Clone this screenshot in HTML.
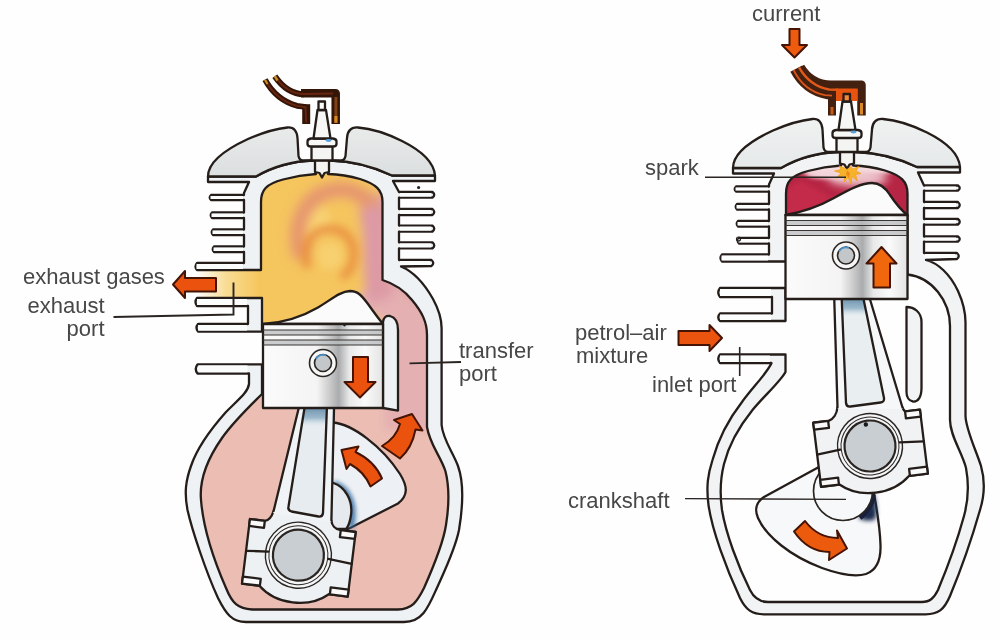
<!DOCTYPE html>
<html><head><meta charset="utf-8">
<style>
html,body{margin:0;padding:0;background:#fefefe;}
body{width:1000px;height:641px;overflow:hidden;font-family:"Liberation Sans",sans-serif;}
svg{display:block;filter:blur(0.55px)}
text{font-family:"Liberation Sans",sans-serif;font-size:22px;fill:#474747;}
.o{stroke:#241d1a;stroke-width:2.3;stroke-linejoin:round;stroke-linecap:round;}
.w{fill:#eef2f5;}
.w2{fill:#f1f3f5;}
.f{fill:none;}
</style></head><body>
<svg width="1000" height="641" viewBox="0 0 1000 641">
<defs>
<filter id="b2" filterUnits="userSpaceOnUse" x="0" y="0" width="1000" height="641"><feGaussianBlur stdDeviation="2"/></filter>
<filter id="b4" filterUnits="userSpaceOnUse" x="0" y="0" width="1000" height="641"><feGaussianBlur stdDeviation="4"/></filter>
<filter id="b5" filterUnits="userSpaceOnUse" x="0" y="0" width="1000" height="641"><feGaussianBlur stdDeviation="5.5"/></filter>
<filter id="b7" filterUnits="userSpaceOnUse" x="0" y="0" width="1000" height="641"><feGaussianBlur stdDeviation="7"/></filter>
<linearGradient id="dome" x1="0" y1="0" x2="0" y2="1"><stop offset="0" stop-color="#e9ebeb"/><stop offset="1" stop-color="#dcdfdf"/></linearGradient>
<linearGradient id="pist" x1="0" y1="0" x2="1" y2="0">
<stop offset="0" stop-color="#fbfbfb"/><stop offset="0.45" stop-color="#f4f4f4"/><stop offset="0.56" stop-color="#c9c9c9"/><stop offset="0.63" stop-color="#a9abad"/><stop offset="0.72" stop-color="#e9e9e9"/><stop offset="0.85" stop-color="#fafafa"/><stop offset="1" stop-color="#e3e3e3"/></linearGradient>
<linearGradient id="exh" x1="0" y1="0" x2="1" y2="0"><stop offset="0" stop-color="#fefefe"/><stop offset="0.45" stop-color="#f9dd96"/><stop offset="1" stop-color="#f5c458"/></linearGradient>
<linearGradient id="shadeL" gradientUnits="userSpaceOnUse" x1="0" y1="408" x2="0" y2="426"><stop offset="0" stop-color="#6f93ad"/><stop offset="0.55" stop-color="#8fb0c6" stop-opacity="0.85"/><stop offset="1" stop-color="#cfdde6" stop-opacity="0"/></linearGradient>
<linearGradient id="shadeR" gradientUnits="userSpaceOnUse" x1="0" y1="299" x2="0" y2="316"><stop offset="0" stop-color="#6f93ad"/><stop offset="0.55" stop-color="#8fb0c6" stop-opacity="0.85"/><stop offset="1" stop-color="#cfdde6" stop-opacity="0"/></linearGradient>
<clipPath id="lcham"><path d="M261,332 L261,200 C261,188 268,182 285,178 C298,175 310,174 322,174 C336,174 348,175 360,179 C376,184 382.5,190 382.5,202 L382.5,280 C392,283 404,290 412,300 C422,312 427,322 427,335 L427,427 C430,445 440,455 445.4,471 C449,485 450,500 446,525 C443,545 432,570 424,588 C417,602 412,609 398,609.5 L252,609.5 C238,609 232,603 226,588 C212,556 203,525 201,500 C199,478 208,458 222,438 C234,421 250,406 262,394 L262,332 Z M266,270 L266,298 L196,298 L196,270 Z"/></clipPath>
</defs>
<rect width="1000" height="641" fill="#fefefe"/>

<!-- ================= LEFT ENGINE ================= -->
<g id="left">
<!-- gas fills -->
<g clip-path="url(#lcham)">
<rect x="195" y="165" width="260" height="460" fill="#ebbdb3"/>
<rect x="255" y="165" width="140" height="175" fill="#f5c55e"/>
<ellipse cx="316" cy="222" rx="14" ry="18" fill="#f8d272" filter="url(#b4)"/>
<ellipse cx="330" cy="256" rx="13" ry="14" fill="#f8d070" filter="url(#b4)"/>
<path d="M358,200 C392,205 384,260 388,300 L445,335 L445,180 Z" fill="#de9ea8" filter="url(#b7)"/>
<path d="M352,300 C368,290 376,280 396,284 L445,330 L445,430 L384,430 L384,322 Z" fill="#e5b0b1" filter="url(#b4)"/>
<path d="M301,258 C291,222 306,195 334,190 C356,187 372,199 378,222" fill="none" stroke="#e69570" stroke-width="15" filter="url(#b5)"/>
<path d="M372,206 C380,240 372,272 382,300" fill="none" stroke="#dd9aa6" stroke-width="26" filter="url(#b5)"/>
<path d="M308,268 C299,246 312,230 329,229 C347,228 357,244 353,262 C351,271 346,275 341,277" fill="none" stroke="#e98f40" stroke-width="8" filter="url(#b4)"/>
<rect x="196" y="270" width="66" height="28" fill="url(#exh)"/>
</g>

<!-- walls: head + upper-left -->
<path class="o w" d="M313.5,160.5 C296,161 274,166 256,176.5 L208,176.5 L208,182 L249,182 L244,193 L244,195 L211,195 Q208.5,197.5 211,200 L244,200 L244,212.5 L212,212.5 Q209.5,215.2 212,218 L244,218 L244,229.5 L213,229.5 Q210.5,232.2 213,235 L244,235 L244,246.5 L214,246.5 Q211.5,249.2 214,252 L244,252 L244,263 L197,263 Q194,266.5 197,270 L261,270 L261,202 C261,190 266,184 283,179.5 C296,176 308,174.5 316,174 L316,160.5 Z"/>
<!-- walls: upper-right + casing + bottom + left + fin8 -->
<path class="o w" d="M330.5,160.5 C350,161 372,166 392,175.5 L435,175.5 L435,181 L393,181 L399,192 L432.5,192 Q436,194.8 432.5,197.6 L399,197.6 L399,209 L432.5,209 Q436,212 432.5,215 L399,215 L399,225.6 L432.5,225.6 Q436,228.6 432.5,231.6 L399,231.6 L399,242.4 L432.5,242.4 Q436,245.4 432.5,248.4 L399,248.4 L399,260 L431.5,260 Q435,263 431.5,266 L401,266.5 C412,271 424,283 433,299 C439,310 441.6,318 441.6,328 L441.6,425 C443,440 453,452 458,466 C463,480 464,500 459,530 C455,550 444,572 436,590 C428,608 422,622 404,622 L246,622 C232,622 226,614 218,598 C206,572 192,530 187.5,510 C184,492 186,480 191,466 C197,448 210,430 226,412 C240,398 248,392 249,384 L249,373.5 L197.5,373.5 Q194,369 197.5,364.4 L262,364.4 L262,394 C250,406 234,421 222,438 C208,458 199,478 201,500 C203,525 212,556 226,588 C232,603 238,609 252,609.5 L398,609.5 C412,609 417,602 424,588 C432,570 443,545 446,525 C450,500 449,485 445.4,471 C440,455 430,445 427,427 L427,335 C427,322 422,312 412,300 C404,290 392,283 382.5,280 L382.5,202 C382.5,190 376,184 360,179 C348,175.5 338,174.3 328,174 L328,160.5 Z"/>
<!-- exhaust lower C fins -->
<path class="o w" d="M197,298 L262,298 L262,331.6 L198,331.6 Q195,327.8 198,324 L248,324 L248,306 L197,306 Q194,302 197,298 Z"/>
<!-- transfer divider -->
<path class="o w" d="M383,408 L383,322 Q384,315 390,316 Q398,318 398,330 L398,410.6 Z"/>
<g fill="#fbfcfc">
<rect x="210.5" y="196" width="32.5" height="3"/><rect x="211.5" y="213.5" width="31.5" height="3.5"/><rect x="212.5" y="230.5" width="30.5" height="3.5"/><rect x="213.5" y="247.5" width="29.5" height="3.5"/><rect x="196.5" y="264" width="46.5" height="5"/>
<rect x="400" y="193" width="31" height="3.6"/><rect x="400" y="210" width="31" height="4"/><rect x="400" y="226.6" width="31" height="4"/><rect x="400" y="243.4" width="31" height="4"/><rect x="400" y="261" width="30" height="4"/>
<rect x="197" y="299" width="50" height="6"/><rect x="198" y="325" width="49" height="5.6"/><rect x="198.5" y="365.4" width="49" height="7"/>
</g>
<!-- domes -->
<path class="o" fill="url(#dome)" d="M208,176.5 C208,163 222,151 248,139 C264,132 278,128.5 287.5,127.5 C294,127 297,131 297.5,138 L298.5,156 Q299.5,160.5 303,160.5 L313.5,160.5 C296,161 274,166 256,176.5 Z"/>
<path class="o" fill="url(#dome)" d="M435,175.5 C434,163 424,152 402,141 C386,133 370,128.5 358,127.5 C351,127 347.5,131 347,138 L345.5,156 Q344.5,160.5 341,160.5 L330.5,160.5 C350,161 372,166 392,175.5 Z"/>
<circle cx="418.6" cy="187.5" r="1.6" fill="#222"/>
<!-- spark plug -->
<g id="plugL">
<path class="o" fill="#f4f4f2" d="M315,160 L315,172 L319.5,173 L322,177.5 L324.5,173 L329,172 L329,160 Z"/>
<path class="o" fill="#f4f4f2" d="M311.5,146 L332.5,146 L332.5,160.5 L311.5,160.5 Z"/>
<path class="o" fill="#f7f7f5" d="M307.5,141.5 Q307.5,139 311,138.5 L333,138.5 Q336.5,139 336.5,141.5 L336.5,144 Q336.5,146.5 333,146.5 L311,146.5 Q307.5,146.5 307.5,144 Z"/>
<path class="o" fill="#f7f7f5" d="M317.5,110 L326,110 L330.5,138.5 L313.5,138.5 Z"/>
<path class="o" fill="#fbfbf8" d="M318.5,101.5 L325,101.5 L325,110 L318.5,110 Z"/>
<ellipse cx="328.5" cy="140.5" rx="3" ry="1.4" fill="#5aa0d8"/>
</g>
<!-- wire left -->
<g fill="none" stroke-linecap="butt" stroke-linejoin="round">
<path d="M265,79.7 C272,92.5 283,102 297,105.8 L306,107" stroke="#341608" stroke-width="5.8"/>
<path d="M306.2,104.2 L306.2,124" stroke="#341608" stroke-width="8"/>
<path d="M274.8,76.2 C283,88 292,94 304,94.2" stroke="#341608" stroke-width="6"/>
<path d="M301,93.2 L335.7,93.2 L335.7,124" stroke="#341608" stroke-width="8.5"/>
<path d="M265,79.7 C272,92.5 283,102 297,105.8 L305.5,107.2 L306.2,122.5" stroke="#6b2410" stroke-width="1.8"/>
<path d="M274.8,76.2 C283,88 292,94 304,94 L333,93.6" stroke="#6b2410" stroke-width="2"/>
<path d="M335.9,97 L335.9,122.8" stroke="#7e4414" stroke-width="3"/>
<path d="M335.9,116 L335.9,122.8" stroke="#d8861e" stroke-width="3.2"/>
<path d="M265,79.7 L267.5,84" stroke="#c8901e" stroke-width="2.2"/>
<path d="M274.8,76.2 L277.5,80.5" stroke="#c8901e" stroke-width="2.4"/>
</g>
<!-- crank web -->
<path class="o" fill="#edf1f5" d="M333,422.5 C352,424 382,446 400,474 C408,487 408,496 398,503.5 L348,529 L330,529 Z"/>
<path d="M333.5,484 C347,488 356,503 350.5,527.5" fill="none" stroke="#3b6fa3" stroke-width="7" filter="url(#b2)" opacity="0.9"/>
<path class="o" fill="#e6eaee" d="M333.5,483 C345,487 353,500 351,515 C350,522 348,527 346,529 L330,529 L330,483 Z"/>
<!-- big end + conrod -->
<g transform="translate(298.4,555.2) rotate(7)">
<path fill="#eef1f3" d="M-52.5,-30 L-37.5,-30 C-33,-31 -31,-36 -30,-40.8 L28.5,-38.4 C29.5,-34 33,-30 39,-30 L54,-30 L54,35 L35,35 C25,44 12,47.5 0,47.5 C-12,47.5 -25,44 -35,35 L-52.5,35 Z"/>
<path class="o f" d="M-30,-40.8 C-31,-36 -33,-31 -37.5,-30 L-52.5,-30 L-52.5,35 L-35,35 C-25,44 -12,47.5 0,47.5 C12,47.5 25,44 35,35 L54,35 L54,-30 L39,-30 C33,-30 29.5,-34 28.5,-38.4"/>
</g>
<path fill="#f1f4f6" d="M298.5,409 L334,409 L331.4,522 L273,513 Z"/>
<path class="o f" d="M298.5,409 L273.6,511 M334,409 L331.4,520.6"/>
<path fill="#e6ecf0" d="M305,405 L327,405 L323,513 Q322.5,517 318.5,516.5 L291.5,511.5 Q287.5,510.5 288.5,506.5 Z"/><path fill="url(#shadeL)" d="M305,405 L327,405 L326.2,427 L301.7,427 Z"/><path class="o f" d="M305,405 L288.5,506.5 Q287.5,510.5 291.5,511.5 L318.5,516.5 Q322.5,517 323,513 L327,405"/>
<g transform="translate(298.4,555.2) rotate(7)">
<circle r="33" cx="0" cy="0" fill="#f3f5f6" stroke="#2b2522" stroke-width="1.4"/>
<circle r="29.5" cx="0" cy="0" fill="none" stroke="#2b2522" stroke-width="1"/>
<circle r="25.5" cx="0" cy="0" fill="#c9ced3" stroke="#2b2522" stroke-width="2.2"/>
<path d="M-52.5,2 L-30,0 M30,0 L54,2" class="o f" />
<path class="o" fill="#fafafa" d="M-52.5,-30 h15 v7 h-15 Z M39,-30 h15 v7 h-15 Z M-52.5,28 h18 v7 h-18 Z M36,28 h18 v7 h-18 Z" stroke-width="1.3"/>
</g>
<!-- piston -->
<path class="o" fill="#fbfbfb" d="M263,324 C280,323 300,318 318,307.5 C332,299 340,291.5 350,291 C358,291 362,296 368,304 C373,311 378,318 383,324 Z"/>
<rect x="263" y="324" width="120" height="84" fill="url(#pist)"/>
<rect x="263" y="330" width="120" height="5" fill="#b9bcbe" opacity="0.75"/>
<rect x="263" y="340" width="120" height="5" fill="#b9bcbe" opacity="0.75"/>
<path class="o f" d="M263,324 L383,324 L383,408 L263,408 Z" />
<path d="M263,330 H383 M263,335 H383 M263,340 H383 M263,345 H383" stroke="#3a3634" stroke-width="1.1" fill="none"/>
<circle cx="323" cy="363" r="13.5" fill="#f6f6f6" stroke="#2b2522" stroke-width="1.6"/>
<circle cx="323" cy="363" r="8.5" fill="#c4c7ca" stroke="#2b2522" stroke-width="1.6"/>
<path d="M316,359 A8,8 0 0 1 326,355.5" stroke="#4a94d0" stroke-width="1.6" fill="none"/>
<circle cx="344.5" cy="325" r="1.4" fill="#222"/>
<!-- arrows -->
<g stroke="#451404" stroke-width="2" stroke-linejoin="round" fill="#ea520e">
<path d="M353,357 L368,357 L368,382 L375.5,382 L360,397.5 L344.5,382 L353,382 Z"/>
<path d="M382,446 Q396,438 400,424 L394,420 L412,414 L422.5,430.5 L415.5,429.5 Q412,448 400,458.5 Z"/>
<path d="M341.5,450 L358.5,446.5 L355.5,452 Q374.5,461 382,478.5 L370.5,486.5 Q364.5,472 350,464 L346.5,469 Z"/>
<path d="M173,284.5 L185,271 L185,278 L216,278 L216,291.5 L185,291.5 L185,298 Z"/>
</g>
<!-- leaders + labels -->
<path d="M233.5,282.5 L233.5,314.5 L113.5,317" class="f" stroke="#2b2522" stroke-width="1.9"/>
<path d="M409.5,363.3 L461,362" class="f" stroke="#2b2522" stroke-width="1.8"/>
<text x="23" y="283.5">exhaust gases</text>
<text x="104.5" y="312.5" text-anchor="end">exhaust</text>
<text x="104.5" y="336" text-anchor="end">port</text>
<text x="459" y="357.5">transfer</text>
<text x="459" y="381">port</text>
</g>

<!-- ================= RIGHT ENGINE ================= -->
<g id="right">
<defs>
<clipPath id="rcham"><path d="M786,216 L786,193.5 C786,181.5 791,175.5 808,171 C821,167.5 833,166 841,165.5 L853,165.5 C863,165.8 873,167 885,170.5 C901,175.5 907.5,181.5 907.5,193.5 L907.5,216 Z"/></clipPath>
<linearGradient id="dome2" x1="0" y1="0" x2="0" y2="1"><stop offset="0" stop-color="#f0f2f2"/><stop offset="1" stop-color="#e6e9e9"/></linearGradient>
<linearGradient id="maroon" x1="0" y1="0" x2="0" y2="1"><stop offset="0" stop-color="#d9a0a8"/><stop offset="0.18" stop-color="#b83a55"/><stop offset="0.6" stop-color="#a8213f"/><stop offset="1" stop-color="#b02a48"/></linearGradient>
</defs>
<!-- compressed gas -->
<g clip-path="url(#rcham)">
<rect x="780" y="160" width="135" height="60" fill="#b62544"/>
<path d="M786,216 C800,212 818,207 834,199 L800,180 L786,190 Z" fill="#c42a48" filter="url(#b2)"/>
<ellipse cx="846" cy="169" rx="50" ry="7.5" fill="#f6e4e6" filter="url(#b2)"/>
<ellipse cx="858" cy="178" rx="30" ry="8" fill="#efc8cf" filter="url(#b4)"/>
<ellipse cx="830" cy="174" rx="24" ry="5" fill="#f3d6da" filter="url(#b2)"/>
</g>
<!-- head + upper-left wall -->
<path class="o w2" transform="translate(525,-8.5)" d="M313.5,160.5 C296,161 274,166 256,176.5 L208,176.5 L208,182 L249,182 L244,193 L244,195 L211,195 Q208.5,197.5 211,200 L244,200 L244,212.5 L212,212.5 Q209.5,215.2 212,218 L244,218 L244,229.5 L213,229.5 Q210.5,232.2 213,235 L244,235 L244,246.5 L214,246.5 Q211.5,249.2 214,252 L244,252 L244,263 L197,263 Q194,266.5 197,270 L261,270 L261,202 C261,190 266,184 283,179.5 C296,176 308,174.5 316,174 L316,160.5 Z"/>
<!-- upper-right wall + casing -->
<path class="o w2" d="M855.5,152 C875,152.5 897,157.5 917,167 L960,167 L960,172.5 L918,172.5 L924,185.5 L958,185.5 Q961.5,188 958,190.6 L924,190.6 L924,202 L958,202 Q961.5,205 958,208 L924,208 L924,219 L958,219 Q961.5,221.8 958,224.5 L924,224.5 L924,236.5 L958,236.5 Q961.5,239 958,241.6 L924,241.6 L924,253 L957,253 Q960.5,256 957,259 L926,260 C938,263 950,274 958,291 C963,302 965.5,312 965.5,322.5 L965.5,416 C966,430 976,450 981,466 C985,480 985,494 980,510 C972,538 960,572 950,596 C944,610 938,614.3 925.6,614.3 L764,614.3 C752,614.3 746,610 740,598 C726,568 712,530 708.5,505 C706,486 708,474 712.5,460 C718,440 728,420 742,402 C752,388 768,372 771.5,363 L720,363 Q716.5,358.7 720,354.5 L785.5,354.5 L785.5,372 C780,382 764,396 752.5,410 C738,428 728,448 724,464 C720,480 720,496 722,510 C726,534 738,566 750,590 C754,598 760,602 768,602 L921.8,602 C930,602 934,598 938,590 C948,566 958,538 964,516 C969,498 969,484 966,468 C962,452 950,436 950,420 L950,326 C950,314 946,302 938,292 C930,282 920,276 907.5,274.5 L907.5,193.5 C907.5,181.5 901,175.5 885,170.5 C873,167 863,165.8 853,165.5 L853,152 Z"/>
<!-- exhaust C fins -->
<path class="o w2" d="M720,288 L785.5,288 L785.5,321 L720,321 Q716.5,317.3 720,313.5 L772,313.5 L772,297 L720,297 Q716.5,292.5 720,288 Z"/>
<!-- slot -->
<path class="o w2" d="M906.5,307 C914,307 921.5,312 921.5,322 L921.5,388 C921.5,397 918,402 913,401.5 C909,401 906.5,397 906.5,392 Z"/>
<g fill="#fcfdfd">
<rect x="735.5" y="187.5" width="32.5" height="3"/><rect x="736.5" y="205" width="31.5" height="3.5"/><rect x="737.5" y="222" width="30.5" height="3.5"/><rect x="738.5" y="239" width="29.5" height="3.5"/><rect x="721.5" y="255.5" width="46.5" height="5"/>
<rect x="925" y="186.5" width="31" height="3.1"/><rect x="925" y="203" width="31" height="4"/><rect x="925" y="220" width="31" height="3.5"/><rect x="925" y="237.5" width="31" height="3.1"/><rect x="925" y="254" width="30" height="4"/>
<rect x="720" y="289" width="51" height="7"/><rect x="720" y="314.5" width="51" height="5.5"/><rect x="720" y="355.5" width="50" height="6.5"/>
</g>
<!-- domes -->
<g transform="translate(525,-8.5)">
<path class="o" fill="url(#dome2)" d="M208,176.5 C208,163 222,151 248,139 C264,132 278,128.5 287.5,127.5 C294,127 297,131 297.5,138 L298.5,156 Q299.5,160.5 303,160.5 L313.5,160.5 C296,161 274,166 256,176.5 Z"/>
<path class="o" fill="url(#dome2)" d="M435,175.5 C434,163 424,152 402,141 C386,133 370,128.5 358,127.5 C351,127 347.5,131 347,138 L345.5,156 Q344.5,160.5 341,160.5 L330.5,160.5 C350,161 372,166 392,175.5 Z"/>
</g>
<circle cx="738.5" cy="239" r="2" fill="none" stroke="#222" stroke-width="1.2"/>
<!-- wire right -->
<g fill="none" stroke-linecap="butt" stroke-linejoin="miter">
<path d="M832,96 L832,115.5" stroke="#43200f" stroke-width="8"/>
<path d="M796.3,68.7 C803,81.5 813,90 828,92.5 L836,92.5" stroke="#43200f" stroke-width="13.5"/>
<path d="M800.5,67 C808,79.5 818,84.7 831,84.7 L861.5,84.7 L861.5,115.5" stroke="#43200f" stroke-width="8.5" stroke-linejoin="round"/>
<path d="M793.6,70 C800,83 810.5,92.2 825,95.2 L832,95.6" stroke="#d9541a" stroke-width="1.8"/>
<path d="M799,67.4 C806,79.5 815.5,87.2 829,89.5 L838,89.8" stroke="#e2591a" stroke-width="2.4"/>
<path d="M836,88.5 L857.5,88.5 L857.5,101 L836,101 Z" fill="#e8540f" stroke="none"/>
<path d="M861.5,103 L861.5,114.5" stroke="#d88a28" stroke-width="3"/>
<path d="M832,107 L832,114.5" stroke="#c65a18" stroke-width="3"/>
</g>
<!-- plug -->
<g transform="translate(525,-8.5)">
<path class="o" fill="#f4f4f2" d="M315,160 L315,172 L319.5,173 L322,177.5 L324.5,173 L329,172 L329,160 Z"/>
<path class="o" fill="#f4f4f2" d="M311.5,146 L332.5,146 L332.5,160.5 L311.5,160.5 Z"/>
<path class="o" fill="#f7f7f5" d="M307.5,141.5 Q307.5,139 311,138.5 L333,138.5 Q336.5,139 336.5,141.5 L336.5,144 Q336.5,146.5 333,146.5 L311,146.5 Q307.5,146.5 307.5,144 Z"/>
<path class="o" fill="#f7f7f5" d="M317.5,110 L326,110 L330.5,138.5 L313.5,138.5 Z"/>
<path class="o" fill="#f6893a" d="M318.5,102.5 L325,102.5 L325,110 L318.5,110 Z"/>
<ellipse cx="328.5" cy="140.5" rx="3" ry="1.4" fill="#5aa0d8"/>
</g>
<!-- spark -->
<path d="M847,169.5 L851,166.5 L852.5,169 L859,166.5 L856,171 L861,173.5 L855.5,174.5 L857.5,181 L852,176.5 L851,184 L848,177 L844.5,182 L844,175.5 L836.5,178 L841,173 L834.5,171 L841,169.5 L839,166 L844.5,168 Z" fill="#f5b22a" stroke="#f0a21a" stroke-width="0.8" stroke-linejoin="round"/>
<path d="M847,170.5 L850,173 L849,178 L846,174.5 Z" fill="#ee8a1c"/>
<!-- crank web -->
<path class="o" fill="#f7f8fa" d="M818,467.5 L764,497 C756,502 754.5,510 758,518 C766,536 790,556 822,568 C840,574.5 856,577 866,574 C877,570 881,560 880.5,545 C880,528 877,510 874,494 L870,470 Z"/>
<path d="M858,517.5 C866,513 871,505 872.5,494.5 L874.5,495 C876.5,505 877,513 875.5,519 C870,522 863,521 858,517.5 Z" fill="#1d2a4e" filter="url(#b2)"/><path d="M860,518 C868,512 873,503 873.5,494.5" fill="none" stroke="#18203c" stroke-width="4.5"/>
<circle cx="843" cy="491" r="29.5" fill="#f7f8fa" stroke="#2b2522" stroke-width="1.7"/>
<!-- big end + conrod -->
<g transform="translate(870,446) rotate(-7)">
<path fill="#f0f2f4" d="M-53.5,-30 L-38,-30 C-33,-31 -29,-36 -27.6,-42.2 L36.9,-34.2 C37.5,-32 38.5,-30 40,-30 L54,-30 L54,34.5 L35,34.5 C25,43.5 12,47 0,47 C-12,47 -25,43.5 -35,34.5 L-53.5,34.5 Z"/>
<path class="o f" d="M-27.6,-42.2 C-29,-36 -33,-31 -38,-30 L-53.5,-30 L-53.5,34.5 L-35,34.5 C-25,43.5 -12,47 0,47 C12,47 25,43.5 35,34.5 L54,34.5 L54,-30 L40,-30 C38.5,-30 37.5,-32 36.9,-34.2"/>
</g>
<path fill="#f5f7f8" d="M834,297 L869.5,297 L903,409 L837.5,409 Z"/>
<path class="o f" d="M834.2,297 L837.5,407.5 M869.3,297 L902.5,407.5"/>
<path fill="#e9eef1" d="M841.6,296 L862.9,296 L884,398 Q884.6,402 880.5,402.5 L850.5,406.5 Q846.5,407 846,403 Z"/><path fill="url(#shadeR)" d="M841.6,296 L862.9,296 L867,317 L842.5,317 Z"/><path class="o f" d="M841.6,296 L846,403 Q846.5,407 850.5,406.5 L880.5,402.5 Q884.6,402 884,398 L862.9,296"/>
<g transform="translate(870,446) rotate(-7)">
<circle r="32.5" cx="0" cy="0" fill="#f3f5f6" stroke="#2b2522" stroke-width="1.4"/>
<circle r="29" cx="0" cy="0" fill="none" stroke="#2b2522" stroke-width="1"/>
<circle r="25.5" cx="0" cy="0" fill="#c9ced3" stroke="#2b2522" stroke-width="2.2"/>
<path d="M-53.5,2 L-30,0 M30,0 L54,2" class="o f" />
<path class="o" fill="#fafafa" d="M-53.5,-30 h15 v7 h-15 Z M39,-30 h15 v7 h-15 Z M-53.5,27.5 h18 v7 h-18 Z M36,27.5 h18 v7 h-18 Z" stroke-width="1.3"/>
<circle cx="-1.5" cy="-21.8" r="2.2" fill="#1a1a1a"/>
</g>
<!-- piston -->
<path class="o" fill="#fbfbfb" d="M785.5,215 C800,212.5 818,207 834,198 C850,189 862,183 872,183 C880,183 885,187 890,195 C896,204 902,211 907.5,215 Z"/>
<rect x="785.5" y="215" width="122" height="84" fill="url(#pist)"/>
<rect x="785.5" y="220.5" width="122" height="5" fill="#b9bcbe" opacity="0.75"/>
<rect x="785.5" y="230.5" width="122" height="5" fill="#b9bcbe" opacity="0.75"/>
<path class="o f" d="M785.5,215 L907.5,215 L907.5,299 L785.5,299 Z"/>
<path d="M785.5,220.5 H907.5 M785.5,225.5 H907.5 M785.5,230.5 H907.5 M785.5,235.5 H907.5" stroke="#3a3634" stroke-width="1.1" fill="none"/>
<circle cx="846" cy="255.5" r="13.5" fill="#f6f6f6" stroke="#2b2522" stroke-width="1.6"/>
<circle cx="846" cy="255.5" r="8.5" fill="#c4c7ca" stroke="#2b2522" stroke-width="1.6"/>
<path d="M839,251.5 A8,8 0 0 1 849,248" stroke="#4a94d0" stroke-width="1.6" fill="none"/>
<!-- arrows -->
<g stroke="#451404" stroke-width="2" stroke-linejoin="round" fill="#f0670e">
<path d="M873.5,287.5 L873.5,263.5 L866.5,263.5 L881.5,247 L896.5,263.5 L890,263.5 L890,287.5 Z"/>
<path d="M678.5,331 L709.5,331 L709.5,325 L722,338 L709.5,351 L709.5,345 L678.5,345 Z" fill="#ea540e"/>
<path d="M789.5,45 L789.5,29 L799.5,29 L799.5,45 L807,45 L794.5,57.5 L782,45 Z" fill="#ee5a0e"/>
<path d="M794,531.5 L805,521 Q818,538 838,538 L837,530.5 L847,548.5 L829,560 L829.5,552 Q808,552 794,531.5 Z" fill="#ec5a0e"/>
</g>
<!-- leaders + labels -->
<path d="M705,177.3 L846,177.3" class="f" stroke="#2b2522" stroke-width="1.4"/>
<path d="M739.7,347 L739.7,376" class="f" stroke="#2b2522" stroke-width="1.6"/>
<path d="M685,498.6 L846,499.4" class="f" stroke="#2b2522" stroke-width="1.4"/>
<text x="752" y="21">current</text>
<text x="645" y="175">spark</text>
<text x="575" y="340">petrol–air</text>
<text x="576" y="363">mixture</text>
<text x="652" y="391.5">inlet port</text>
<text x="568" y="508">crankshaft</text>
</g>
</svg>
</body></html>
